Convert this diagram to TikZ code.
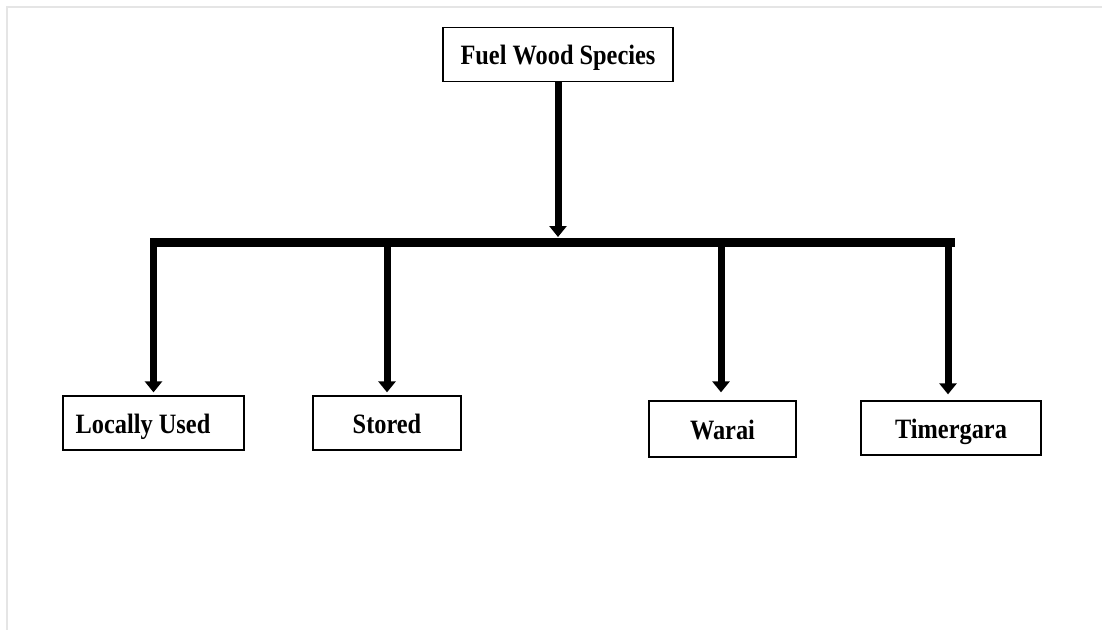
\documentclass[tikz,border=0pt]{standalone}
\usepackage{fontspec}
\setmainfont{Liberation Serif}[FakeStretch=0.87]
\usetikzlibrary{arrows.meta}
\begin{document}
\begin{tikzpicture}[x=1pt,y=-1pt,
  box/.style={draw=black,line width=1.3pt,inner sep=0pt,minimum height=54pt,
    text height=20pt,text depth=0pt,
    font=\fontsize{28}{32}\selectfont\bfseries},
  bus/.style={line width=9pt,line cap=butt},
  arr/.style={line width=7pt,-{Triangle[width=17pt,length=11pt]}},
  frame/.style={draw=black!10,line width=2pt}]
\useasboundingbox (0,0) rectangle (1102,630);
\draw[frame] (7,630) -- (7,6.5) -- (1102,6.5);
\node[box,minimum width=230pt] (top) at (558,54.5) {Fuel Wood Species};
\node[box,minimum width=181pt] (lu) at (153.5,423) {Locally Used\hspace*{21pt}};
\node[box,minimum width=148pt] (st) at (387,423) {Stored};
\node[box,minimum width=147pt,minimum height=56pt] (wa) at (722.5,429) {Warai};
\node[box,minimum width=180pt] (ti) at (951,428) {Timergara};
\coordinate (bl) at (150,242);
\coordinate (br) at (955,242);
\draw[bus] (bl) -- (br);
\draw[arr] (top.south) -- ([yshift=5pt]top.south |- bl);
\draw[arr] (lu.north |- bl) -- ([yshift=3pt]lu.north);
\draw[arr] (st.north |- bl) -- ([yshift=3pt]st.north);
\draw[arr] ([xshift=-1.5pt]wa.north |- bl) -- ([xshift=-1.5pt,yshift=8pt]wa.north);
\draw[arr] ([xshift=-3pt]ti.north |- bl) -- ([xshift=-3pt,yshift=6pt]ti.north);
\end{tikzpicture}
\end{document}
